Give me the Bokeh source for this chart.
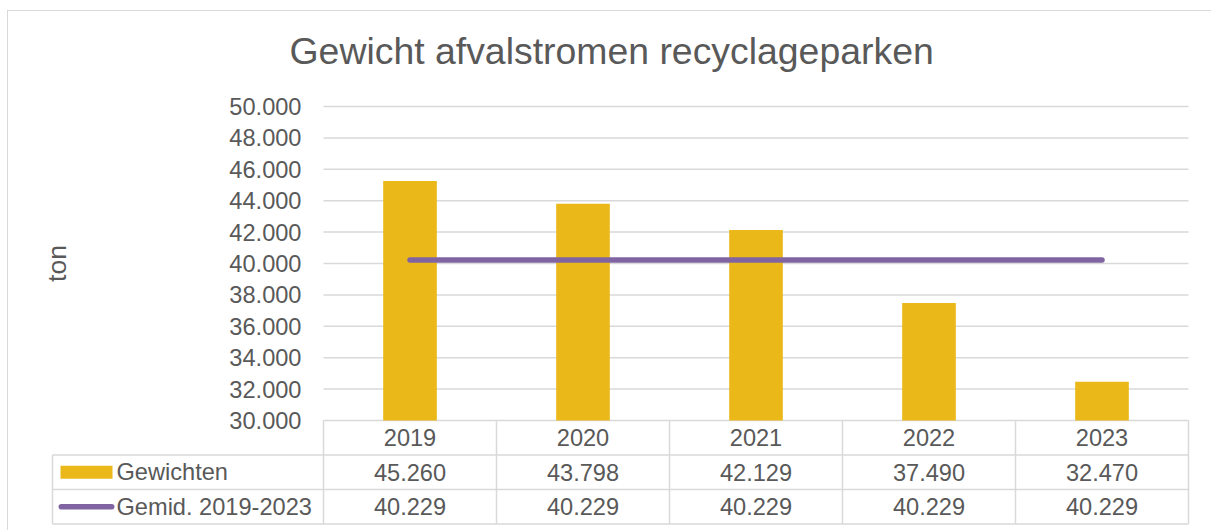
import math
from bokeh.plotting import figure
from bokeh.models import Range1d, FixedTicker, ColumnDataSource
from bokeh.core.properties import value
from bokeh.embed import file_html
from bokeh.resources import INLINE

# ---------------- data ----------------
title_text = "Gewicht afvalstromen recyclageparken"
years = ["2019", "2020", "2021", "2022", "2023"]
weights = [45260, 43798, 42129, 37490, 32470]
average = [40229, 40229, 40229, 40229, 40229]
series_names = ["Gewichten", "Gemid. 2019-2023"]
y_ticks = [30000, 32000, 34000, 36000, 38000, 40000, 42000, 44000, 46000, 48000, 50000]
y_tick_labels = ["30.000", "32.000", "34.000", "36.000", "38.000", "40.000",
                 "42.000", "44.000", "46.000", "48.000", "50.000"]
y_axis_title = "ton"
Y_MIN, Y_MAX = 30000, 50000


def fmt(v):
    return f"{v:,}".replace(",", ".")


# ---------------- styles / layout (page pixels) ----------------
FONT = "Liberation Sans"
TXT = "#595959"
GRID = "#D9D9D9"
GOLD = "#EAB818"
PURPLE = "#8064A2"

OX, OY = 8, 11            # figure origin on the page (after css margin + border)
W, H = 1204, 520
PL, PR, PT, PB = 40, 1190, 86, 526   # frame edges
COL0, COL_W = 323, 173               # first year column left edge, column width
Y50, Y30 = 106, 420                  # pixel rows of Y_MAX / Y_MIN
ROW_H = 34.5
LEG_X = 52                           # left edge of the table legend column
TON_X = 56.5                         # centre of the axis title

ppu = (Y30 - Y50) / (Y_MAX - Y_MIN)


def to_x(px):
    return (px - COL0) / COL_W


def to_t(py):
    return (py - Y30) / ROW_H


n = len(years)
xc = [i + 0.5 for i in range(n)]

p = figure(width=W, height=H,
           x_range=Range1d(to_x(PL), to_x(PR)),
           y_range=Range1d(Y_MIN - (PB - Y30) / ppu, Y_MAX + (Y50 - PT) / ppu),
           output_backend="svg", toolbar_location=None,
           x_axis_location=None,
           min_border_left=PL - OX, min_border_right=OX + W - PR,
           min_border_top=PT - OY, min_border_bottom=OY + H - PB)
p.extra_y_ranges = {"tbl": Range1d(start=to_t(PB), end=to_t(PT))}
p.styles = {"margin-left": "7px", "margin-top": "10px",
            "border-left": "1px solid #D9D9D9", "border-top": "1px solid #D9D9D9"}

p.background_fill_color = "white"
p.border_fill_color = "white"
p.outline_line_color = None
p.xgrid.visible = False
p.ygrid.visible = False

# title
p.title.text = title_text
p.title.text_font = FONT
p.title.text_font_size = "37.4px"
p.title.text_font_style = "normal"
p.title.text_color = TXT
p.title.align = "left"
p.title.offset = 289 - PL
p.title.vertical_align = "top"
p.title.standoff = 26

# y axis (labels drawn to the right of the frame edge, like the original)
ax = p.yaxis[0]
ax.ticker = FixedTicker(ticks=y_ticks)
ax.major_label_overrides = dict(zip(y_ticks, y_tick_labels))
ax.major_label_text_font = FONT
ax.major_label_text_font_size = "23.6px"
ax.major_label_text_color = TXT
ax.major_tick_out = 0
ax.major_tick_in = 0
ax.major_label_standoff = PL - 301
ax.major_tick_line_color = None
ax.minor_tick_line_color = None
ax.axis_line_color = None

# axis title, centred on the value range
p.text(x=to_x(TON_X), y=(Y_MIN + Y_MAX) / 2, text=[y_axis_title], angle=math.pi / 2,
       text_font=value(FONT), text_font_size="26.5px", text_color=TXT,
       text_align="center", text_baseline="middle")

# gridlines from the tick list
p.segment(x0=0, x1=n, y0=y_ticks, y1=y_ticks, line_color=GRID, line_width=1.5)

# bars and average line
src = ColumnDataSource(dict(x=xc, year=years, w=weights, avg=average,
                            wtxt=[fmt(v) for v in weights],
                            atxt=[fmt(v) for v in average]))
p.vbar(x="x", top="w", bottom=Y_MIN, width=0.31, fill_color=GOLD,
       line_color=None, source=src)
p.line(x="x", y="avg", line_width=5.5, line_color=PURPLE, line_cap="round",
       source=src)

# data table grid
lx = to_x(LEG_X)
p.segment(x0=list(range(n + 1)), x1=list(range(n + 1)), y0=0, y1=3,
          line_color=GRID, line_width=1.5, y_range_name="tbl")
p.segment(x0=lx, x1=lx, y0=1, y1=3, line_color=GRID, line_width=1.5,
          y_range_name="tbl")
p.segment(x0=lx, x1=n, y0=[1, 2, 3], y1=[1, 2, 3], line_color=GRID,
          line_width=1.5, y_range_name="tbl")

# data table texts
tkw = dict(text_font=value(FONT), text_font_size="23.6px", text_color=TXT,
           text_baseline="middle", y_range_name="tbl")
p.text(x="x", y=0.5, text="year", source=src, text_align="center", **tkw)
p.text(x="x", y=1.5, text="wtxt", source=src, text_align="center", **tkw)
p.text(x="x", y=2.5, text="atxt", source=src, text_align="center", **tkw)

# legend keys in the table
p.rect(x=to_x(86), y=1.5, width=52 / COL_W, height=13 / ROW_H, fill_color=GOLD,
       line_color=None, y_range_name="tbl")
p.segment(x0=to_x(60.8), x1=to_x(111.2), y0=2.5, y1=2.5, line_color=PURPLE,
          line_width=5.5, line_cap="round", y_range_name="tbl")
p.text(x=to_x(116), y=[1.5, 2.5], text=series_names, text_align="left", **tkw)

open("out.html", "w").write(file_html(p, INLINE))
